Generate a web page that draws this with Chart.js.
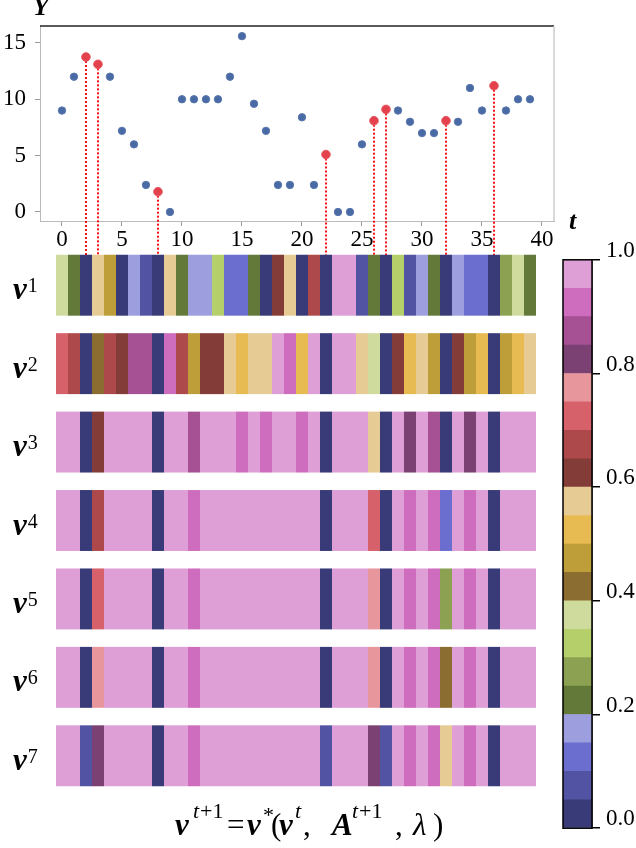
<!DOCTYPE html>
<html>
<head>
<meta charset="utf-8">
<script src="https://cdn.jsdelivr.net/npm/chart.js@4.4.1/dist/chart.umd.min.js"></script>
<style>
body{margin:0;background:#fff;width:636px;height:848px;position:relative;overflow:hidden}
canvas{position:absolute}
</style>
</head>
<body>
<canvas id="top" width="600" height="255" style="left:0;top:0"></canvas>
<canvas id="strips" width="540" height="608" style="left:0;top:240px"></canvas>
<canvas id="cbar" width="96" height="608" style="left:540px;top:240px"></canvas>
<script>
// time axis and observed Y
const T = [0,1,2,3,4,5,6,7,8,9,10,11,12,13,14,15,16,17,18,19,20,21,22,23,24,25,26,27,28,29,30,31,32,33,34,35,36,37,38,39]
const Y = [9,12,13.75,13.1,12,7.2,6,2.4,1.8,0, 10,10,10,10,12,15.6,9.6,7.2,2.4,2.4, 8.4,2.4,5.1,0,0,6,8.1,9.1,9,8, 7,7,8.1,8,11,9,11.2,9,10,10]
const marked = [2,3,8,22,26,27,32,36]

const xTicks = [0,5,10,15,20,25,30,35,40]
const yTicks = [0,5,10,15]
const cbTicks = [0,0.2,0.4,0.6,0.8,1.0]

// strip rows v^1 .. v^7
const stripNames = ["1","2","3","4","5","6","7"]
const v1 = [0.38,0.23,0.03,0.58,0.48,0.03,0.18,0.08,0.03,0.58, 0.23,0.18,0.18,0.33,0.13,0.13,0.23,0.03,0.63,0.58, 0.03,0.68,0.03,0.98,0.98,0.08,0.23,0.03,0.33,0.08, 0.18,0.23,0.03,0.18,0.13,0.13,0.03,0.28,0.38,0.23]
const v2 = [0.73,0.68,0.03,0.43,0.68,0.63,0.88,0.88,0.03,0.93, 0.68,0.48,0.63,0.63,0.58,0.53,0.58,0.58,0.98,0.93, 0.53,0.98,0.03,0.98,0.98,0.58,0.38,0.03,0.63,0.53, 0.58,0.48,0.03,0.63,0.48,0.53,0.03,0.48,0.53,0.58]
const v3 = [0.98,0.98,0.03,0.63,0.98,0.98,0.98,0.98,0.03,0.98, 0.98,0.88,0.98,0.98,0.98,0.93,0.98,0.93,0.98,0.98, 0.93,0.98,0.03,0.98,0.98,0.98,0.58,0.03,0.98,0.83, 0.98,0.88,0.03,0.98,0.83,0.98,0.03,0.98,0.98,0.98]
const v4 = [0.98,0.98,0.03,0.68,0.98,0.98,0.98,0.98,0.03,0.98, 0.98,0.93,0.98,0.98,0.98,0.98,0.98,0.98,0.98,0.98, 0.98,0.98,0.03,0.98,0.98,0.98,0.73,0.03,0.98,0.93, 0.98,0.93,0.13,0.98,0.93,0.98,0.03,0.98,0.98,0.98]
const v5 = [0.98,0.98,0.03,0.73,0.98,0.98,0.98,0.98,0.03,0.98, 0.98,0.93,0.98,0.98,0.98,0.98,0.98,0.98,0.98,0.98, 0.98,0.98,0.03,0.98,0.98,0.98,0.78,0.03,0.98,0.93, 0.98,0.93,0.28,0.98,0.93,0.98,0.03,0.98,0.98,0.98]
const v6 = [0.98,0.98,0.03,0.78,0.98,0.98,0.98,0.98,0.03,0.98, 0.98,0.93,0.98,0.98,0.98,0.98,0.98,0.98,0.98,0.98, 0.98,0.98,0.03,0.98,0.98,0.98,0.78,0.03,0.98,0.93, 0.98,0.93,0.43,0.98,0.93,0.98,0.03,0.98,0.98,0.98]
const v7 = [0.98,0.98,0.08,0.83,0.98,0.98,0.98,0.98,0.03,0.98, 0.98,0.93,0.98,0.98,0.98,0.98,0.98,0.98,0.98,0.98, 0.98,0.98,0.08,0.98,0.98,0.98,0.83,0.08,0.98,0.93, 0.98,0.93,0.58,0.98,0.93,0.98,0.03,0.98,0.98,0.98]
const rows = [v1,v2,v3,v4,v5,v6,v7]

const tab20b = ['#393b79','#5254a3','#6b6ecf','#9c9ede','#637939','#8ca252','#b5cf6b','#cedb9c','#8c6d31','#bd9e39','#e7ba52','#e7cb94','#843c39','#ad494a','#d6616b','#e7969c','#7b4173','#a55194','#ce6dbd','#de9ed6']
const cmap = v => tab20b[Math.min(19, Math.floor(v*20))]

const SERIF = '"Times New Roman", "Liberation Serif", Times, serif'
Chart.defaults.font.family = SERIF
Chart.defaults.color = "#000"
Chart.defaults.animation = false
Chart.defaults.responsive = false
Chart.defaults.devicePixelRatio = 1


// ---- top scatter ----
const normalPts = T.filter(t => !marked.includes(t)).map(t => ({x:t, y:Y[t]}))
const markedPts = marked.map(t => ({x:t, y:Y[t]}))

const topDeco = {
  id:"topDeco",
  beforeDatasetsDraw(c){
    const g = c.ctx, xs = c.scales.x, ys = c.scales.y
    g.save()
    g.strokeStyle = "#ff1010"
    g.lineWidth = 2
    g.setLineDash([2,2])
    marked.forEach(t=>{
      const px = Math.round(xs.getPixelForValue(t))
      g.beginPath()
      g.moveTo(px, ys.getPixelForValue(Y[t]))
      g.lineTo(px, c.height)
      g.stroke()
    })
    g.restore()
  },
  afterDraw(c){
    const g = c.ctx, a = c.chartArea
    g.save()
    g.strokeStyle = "#222"
    g.lineWidth = 1.5
    g.beginPath(); g.moveTo(a.left, a.top); g.lineTo(a.right, a.top); g.stroke()
    g.strokeStyle = "#ccc"
    g.beginPath(); g.moveTo(a.right, a.top); g.lineTo(a.right, a.bottom); g.stroke()
    g.fillStyle = "#000"
    g.font = "bold italic 26px " + SERIF
    g.fillText("Y", 33, 15)
    g.fillText("t", 569, 229)
    g.restore()
  }
}

new Chart(document.getElementById("top"), {
  type:"scatter",
  data:{
    datasets:[
      {data:normalPts, backgroundColor:"#4a6aa5", borderColor:"#5876ad", borderWidth:1, pointRadius:3.7},
      {data:markedPts, backgroundColor:"#e3414b", borderColor:"#e65560", borderWidth:1, pointRadius:4.3}
    ]
  },
  options:{
    layout:{padding:{top:26, right:46, left:0, bottom:0}},
    plugins:{legend:{display:false}, tooltip:{enabled:false}},
    scales:{
      x:{
        type:"linear", min:-1.83, max:41,
        afterFit:s=>{s.height=34},
        afterBuildTicks:s=>{s.ticks = xTicks.map(v=>({value:v}))},
        ticks:{font:{size:23}, padding:0, maxRotation:0},
        grid:{drawOnChartArea:false, tickLength:5, color:"#999"},
        border:{color:"#bbb"}
      },
      y:{
        min:-0.8, max:16.5,
        afterFit:s=>{s.width=40},
        afterBuildTicks:s=>{s.ticks = yTicks.map(v=>({value:v}))},
        ticks:{font:{size:23}, padding:9},
        grid:{drawOnChartArea:false, tickLength:5, color:"#999"},
        border:{color:"#bbb"}
      }
    }
  },
  plugins:[topDeco]
})


// ---- strips ----
const stripSets = T.map(t => ({
  data: rows.map(() => [t-0.5, t+0.5]),
  backgroundColor: rows.map(r => cmap(r[t])),
  borderWidth:0,
  grouped:false,
  barPercentage:0.777,
  categoryPercentage:1
}))

const stripDeco = {
  id:"stripDeco",
  afterDraw(c){
    const g = c.ctx, ys = c.scales.y
    g.save()
    g.fillStyle = "#000"
    stripNames.forEach((n,i)=>{
      const cy = ys.getPixelForValue(i)
      g.font = "bold italic 31px " + SERIF
      g.fillText("v", 13, cy+14)
      const w = g.measureText("v").width
      g.font = "20px " + SERIF
      g.fillText(n, 13+w+1, cy+7)
    })
    // formula
    const base = 595, sup = base-17
    const bi = "bold italic 31px "+SERIF, r = "31px "+SERIF, i31 = "italic 31px "+SERIF
    const si = "italic 22px "+SERIF, sr = "22px "+SERIF
    const parts = [
      [175,"v",bi,base],[193,"t",si,sup],[200,"+1",sr,sup],[227,"=",r,base],
      [247,"v",bi,base],[263,"*",sr,base-13],[271,"(",r,base],[279,"v",bi,base],[295,"t",si,sup],[303,",",r,base],
      [332,"A",bi,base],[352,"t",si,sup],[359,"+1",sr,sup],[395,",",r,base],
      [413,"\u03bb",i31,base],[433,")",r,base]
    ]
    parts.forEach(p=>{ g.font = p[2]; g.fillText(p[1], p[0], p[3]) })
    g.restore()
  }
}

new Chart(document.getElementById("strips"), {
  type:"bar",
  data:{labels:stripNames, datasets:stripSets},
  options:{
    indexAxis:"y",
    layout:{padding:{left:56, right:4, top:6, bottom:53}},
    plugins:{legend:{display:false}, tooltip:{enabled:false}},
    scales:{
      x:{type:"linear", min:-0.5, max:39.5, display:false},
      y:{display:false}
    }
  },
  plugins:[stripDeco]
})


// ---- colour bar ----
const cbSets = tab20b.map(col => ({
  data:[1/tab20b.length],
  backgroundColor:col,
  borderWidth:0,
  barPercentage:1,
  categoryPercentage:1
}))

const cbDeco = {
  id:"cbDeco",
  afterDraw(c){
    const g = c.ctx, a = c.chartArea
    g.save()
    g.strokeStyle = "#000"
    g.lineWidth = 1.5
    g.strokeRect(a.left, a.top, a.right-a.left, a.bottom-a.top)
    g.restore()
  }
}

new Chart(document.getElementById("cbar"), {
  type:"bar",
  data:{labels:[""], datasets:cbSets},
  options:{
    layout:{padding:{left:23, right:0, top:15, bottom:10}},
    plugins:{legend:{display:false}, tooltip:{enabled:false}},
    scales:{
      x:{stacked:true, display:false},
      y:{
        stacked:true, min:0, max:1, position:"right",
        afterFit:s=>{s.width=44},
        afterBuildTicks:s=>{s.ticks = cbTicks.map(v=>({value:v}))},
        ticks:{font:{size:23}, padding:6, labelOffset:-9, callback:v=>v.toFixed(1)},
        grid:{drawOnChartArea:false, tickLength:8, color:"#000", lineWidth:1.5},
        border:{color:"#000", width:1.5}
      }
    }
  },
  plugins:[cbDeco]
})
</script>
</body>
</html>
